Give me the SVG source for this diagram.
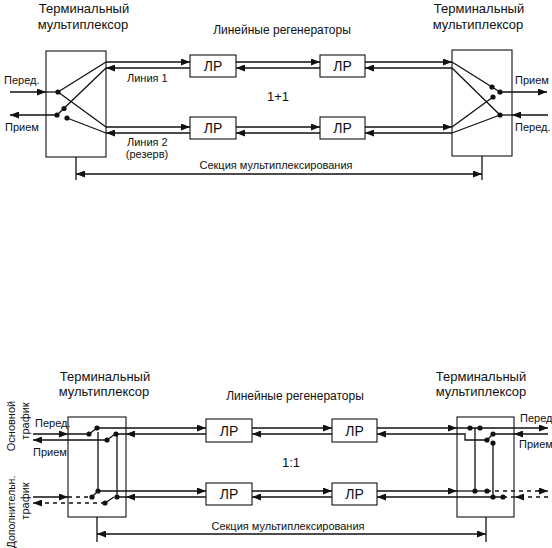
<svg xmlns="http://www.w3.org/2000/svg" width="552" height="548" viewBox="0 0 552 548">
<defs>
<marker id="a" viewBox="0 0 9 7" refX="9" refY="3.5" markerWidth="9" markerHeight="7" markerUnits="userSpaceOnUse" orient="auto"><path d="M0,0L9,3.5L0,7z" fill="#111"/></marker>
<style>
text{font-family:"Liberation Sans",Arial,sans-serif;fill:#111}
.t{font-size:13px;text-anchor:middle}
.s{font-size:11px}
.m{font-size:11px;text-anchor:middle}
.lr{font-size:14px;text-anchor:middle}
.box{fill:#fff;stroke:#111;stroke-width:1.1}
.ln{fill:none;stroke:#111;stroke-width:1.3}
.ar{fill:none;stroke:#111;stroke-width:1.3;marker-end:url(#a)}
.da{fill:none;stroke:#111;stroke-width:1.3;stroke-dasharray:4 4}
.dot{fill:#111}
</style>
</defs>
<rect width="552" height="548" fill="#fff"/>

<!-- ===== Top: 1+1 ===== -->
<g id="mux-top-left">
<rect class="box" x="46" y="51" width="60" height="106"/>
<text class="t" x="84" y="13">Терминальный</text>
<text class="t" x="83" y="29">мультиплексор</text>
</g>
<g id="mux-top-right">
<rect class="box" x="452" y="50" width="60" height="106"/>
<text class="t" x="479" y="13">Терминальный</text>
<text class="t" x="478" y="29">мультиплексор</text>
</g>
<g id="lr-top-1"><rect class="box" x="190" y="55" width="46" height="22"/><text class="lr" x="213" y="71">ЛР</text></g>
<g id="lr-top-2"><rect class="box" x="320" y="55" width="45" height="22"/><text class="lr" x="342.5" y="71">ЛР</text></g>
<g id="lr-top-3"><rect class="box" x="190" y="117" width="46" height="22"/><text class="lr" x="213" y="133">ЛР</text></g>
<g id="lr-top-4"><rect class="box" x="320" y="117" width="45" height="22"/><text class="lr" x="342.5" y="133">ЛР</text></g>

<g id="labels-top">
<text class="m" x="282" y="34" style="font-size:12px">Линейные регенераторы</text>
<text class="t" x="278" y="101">1+1</text>
<text class="s" x="127" y="82">Линия 1</text>
<text class="s" x="127" y="146">Линия 2</text>
<text class="m" x="147" y="158">(резерв)</text>
<text class="s" x="4" y="84">Перед.</text>
<text class="s" x="5" y="131">Прием</text>
<text class="s" x="515" y="84">Прием</text>
<text class="s" x="515" y="131">Перед.</text>
<text class="m" x="276" y="169">Секция мультиплексирования</text>
</g>

<g id="connectors-top">
<!-- left inputs -->
<path class="ar" d="M10,92H46"/>
<path class="ln" d="M46,92H58"/>
<path class="ar" d="M57,115H10"/>
<path class="ln" d="M58,92L106,62M58,92L106,127M57,115L106,68M67,118L106,133"/>
<circle class="dot" cx="58" cy="92" r="2.6"/>
<circle class="dot" cx="57" cy="115" r="2.6"/>
<circle class="dot" cx="64" cy="108.5" r="2.6"/>
<circle class="dot" cx="67" cy="118" r="2.6"/>
<!-- line 1 -->
<path class="ar" d="M106,62H190"/>
<path class="ar" d="M190,68H106"/>
<path class="ar" d="M236,62H320"/>
<path class="ar" d="M320,68H236"/>
<path class="ar" d="M365,62H452"/>
<path class="ar" d="M452,68H365"/>
<!-- line 2 -->
<path class="ar" d="M106,127H190"/>
<path class="ar" d="M190,133H106"/>
<path class="ar" d="M236,127H320"/>
<path class="ar" d="M320,133H236"/>
<path class="ar" d="M365,127H452"/>
<path class="ar" d="M452,133H365"/>
<!-- right inside -->
<path class="ln" d="M452,62L500,92M452,68L500,115M452,127L493,97M452,133L500,115"/>
<path class="ar" d="M500,92H547"/>
<path class="ar" d="M548,115H512"/>
<path class="ln" d="M512,115H500"/>
<circle class="dot" cx="492" cy="87" r="2.6"/>
<circle class="dot" cx="500" cy="92" r="2.6"/>
<circle class="dot" cx="493" cy="97" r="2.6"/>
<circle class="dot" cx="500" cy="115" r="2.6"/>
<!-- section -->
<path class="ln" d="M76,157V180M482,156V180"/>
<path class="ar" d="M279,174H76"/>
<path class="ar" d="M279,174H482"/>
</g>

<!-- ===== Bottom: 1:1 ===== -->
<g id="mux-bot-left">
<rect class="box" x="68" y="417" width="58" height="100"/>
<text class="t" x="105" y="381">Терминальный</text>
<text class="t" x="104" y="396">мультиплексор</text>
</g>
<g id="mux-bot-right">
<rect class="box" x="457" y="417" width="57" height="100"/>
<text class="t" x="481" y="381">Терминальный</text>
<text class="t" x="481" y="396">мультиплексор</text>
</g>
<g id="lr-bot-1"><rect class="box" x="206" y="419" width="46" height="23"/><text class="lr" x="229" y="436">ЛР</text></g>
<g id="lr-bot-2"><rect class="box" x="332" y="419" width="45" height="23"/><text class="lr" x="354.5" y="436">ЛР</text></g>
<g id="lr-bot-3"><rect class="box" x="206" y="483" width="46" height="22"/><text class="lr" x="229" y="499">ЛР</text></g>
<g id="lr-bot-4"><rect class="box" x="332" y="483" width="45" height="22"/><text class="lr" x="354.5" y="499">ЛР</text></g>

<g id="labels-bot">
<text class="m" x="295" y="400" style="font-size:12px">Линейные регенераторы</text>
<text class="t" x="291" y="467">1:1</text>
<text class="m" x="288" y="530">Секция мультиплексирования</text>
<text class="s" x="35" y="427">Перед.</text>
<text class="s" x="33" y="456">Прием</text>
<text class="s" x="520" y="422">Перед</text>
<text class="s" x="519" y="448">Прием</text>
<text class="m" transform="translate(15,426) rotate(-90)">Основной</text>
<text class="m" transform="translate(29,421) rotate(-90)">трафик</text>
<text class="m" transform="translate(15,512) rotate(-90)" style="font-size:10.5px">Дополнительн.</text>
<text class="m" transform="translate(29,501) rotate(-90)">трафик</text>
</g>

<g id="connectors-bot">
<!-- left main -->
<path class="ar" d="M33,434H68"/>
<path class="ln" d="M68,434H89M89,434L97,428"/>
<path class="ar" d="M97,428H206"/>
<path class="ar" d="M206,434H126"/>
<path class="ln" d="M126,434H116M107,440L115,434"/>
<path class="ar" d="M107,440H33"/>
<path class="ln" d="M98,432V491M117,434V497"/>
<circle class="dot" cx="89" cy="434" r="2.6"/>
<circle class="dot" cx="97" cy="428" r="2.6"/>
<circle class="dot" cx="107" cy="440" r="2.6"/>
<circle class="dot" cx="116" cy="434" r="2.6"/>
<!-- left extra -->
<path class="ar" d="M33,497H68"/>
<path class="da" d="M68,497H92"/>
<path class="ln" d="M92,497L98,491"/>
<path class="ar" d="M98,491H206"/>
<path class="ar" d="M206,497H126"/>
<path class="ln" d="M126,497H117M105,503L114,497"/>
<path class="da" d="M105,503H42"/>
<path class="ar" d="M42,503H33"/>
<circle class="dot" cx="92" cy="497" r="2.6"/>
<circle class="dot" cx="98" cy="491" r="2.6"/>
<circle class="dot" cx="105" cy="503" r="2.6"/>
<circle class="dot" cx="117" cy="497" r="2.6"/>
<!-- between LR -->
<path class="ar" d="M252,428H332"/>
<path class="ar" d="M332,434H252"/>
<path class="ar" d="M252,491H332"/>
<path class="ar" d="M332,497H252"/>
<!-- right main -->
<path class="ar" d="M377,428H457"/>
<path class="ar" d="M457,428H548"/>
<path class="ar" d="M487,440H465V434H377"/>
<path class="ln" d="M487,440L493,434"/>
<path class="ar" d="M548,434H514"/>
<path class="ln" d="M514,434H493M475,428V491M493,443V497"/>
<circle class="dot" cx="470" cy="428" r="2.6"/>
<circle class="dot" cx="480" cy="428" r="2.6"/>
<circle class="dot" cx="487" cy="440" r="2.6"/>
<circle class="dot" cx="493" cy="434" r="2.6"/>
<circle class="dot" cx="493" cy="443" r="2.6"/>
<!-- right extra -->
<path class="ar" d="M377,491H457"/>
<path class="ln" d="M457,491H487"/>
<path class="da" d="M487,491H540"/>
<path class="ar" d="M538,491H548"/>
<path class="ar" d="M503,497H377"/>
<path class="da" d="M548,497H523"/>
<path class="ar" d="M523,497H515"/>
<path class="da" d="M515,497H503"/>
<circle class="dot" cx="475" cy="491" r="2.6"/>
<circle class="dot" cx="487" cy="491" r="2.6"/>
<circle class="dot" cx="493" cy="497" r="2.6"/>
<circle class="dot" cx="503" cy="497" r="2.6"/>
<!-- section -->
<path class="ln" d="M97,517V542M486,517V542"/>
<path class="ar" d="M291,534H97"/>
<path class="ar" d="M291,534H486"/>
</g>
</svg>
